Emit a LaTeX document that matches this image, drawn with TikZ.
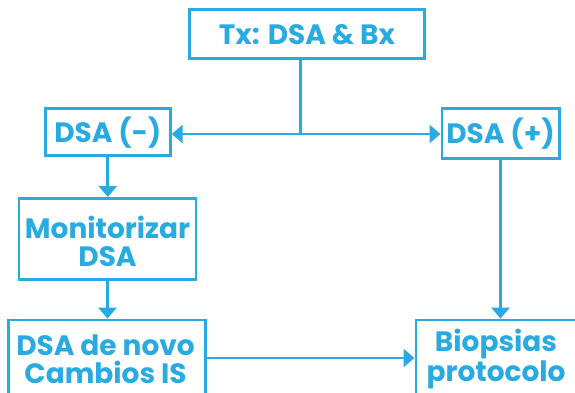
\documentclass[tikz,border=0pt]{standalone}
\usepackage{fontspec}
\setmainfont{Poppins}
\usetikzlibrary{arrows.meta}
\definecolor{cy}{HTML}{29ABE2}
\begin{document}
\begin{tikzpicture}[x=1pt,y=-1pt,
  box/.style={draw=cy, line width=2.7pt, inner sep=0pt, rectangle},
  lbl/.style={text=cy, font=\bfseries\fontsize{28}{28}\selectfont, align=center, inner sep=0pt},
  conn/.style={draw=cy, line width=2.7pt},
  arr/.style={conn, -{Triangle[width=18pt,length=11pt]}}]
\useasboundingbox (0,0) rectangle (575,392);
\clip (0,0) rectangle (575,392);
\node[box, minimum width=235.3pt, minimum height=49.3pt] (tx) at (307,34) {};
\node[box, minimum width=125pt, minimum height=47.3pt] (dneg) at (107.8,132) {};
\node[box, minimum width=117.3pt, minimum height=50.3pt] (dpos) at (500.5,133.5) {};
\node[box, minimum width=177pt, minimum height=81.3pt] (mon) at (107.5,239) {};
\node[box, minimum width=197.2pt, minimum height=76pt] (novo) at (107.2,358) {};
\node[box, minimum width=184.3pt, minimum height=76pt] (bio) at (508,358) {};
\node[lbl] (ttx) at (307,35) {Tx: DSA \& Bx};
\node[lbl] (tneg) at (107.8,133) {DSA (-)};
\node[lbl] (tpos) at (500.5,134) {DSA (+)};
\node[lbl] (tmon) at (107.5,241) {Monitorizar\\DSA};
\node[lbl] (tnovo) at (105.5,359) {DSA de novo\\Cambios IS};
\node[lbl] (tbio) at (496,359) {Biopsias\\protocolo};
\coordinate (j) at (300.6,134);
\draw[conn] (tx.south -| j) -- (j);
\draw[arr] (j) -- (dneg.east |- j);
\draw[arr] (j) -- (dpos.west |- j);
\draw[arr] (dneg.south) -- (dneg.south |- mon.north);
\draw[arr] (mon.south) -- (mon.south |- novo.north);
\draw[arr] (dpos.south) -- (dpos.south |- bio.north);
\draw[arr] (novo.east) -- (bio.west |- novo.east);
\end{tikzpicture}
\end{document}
